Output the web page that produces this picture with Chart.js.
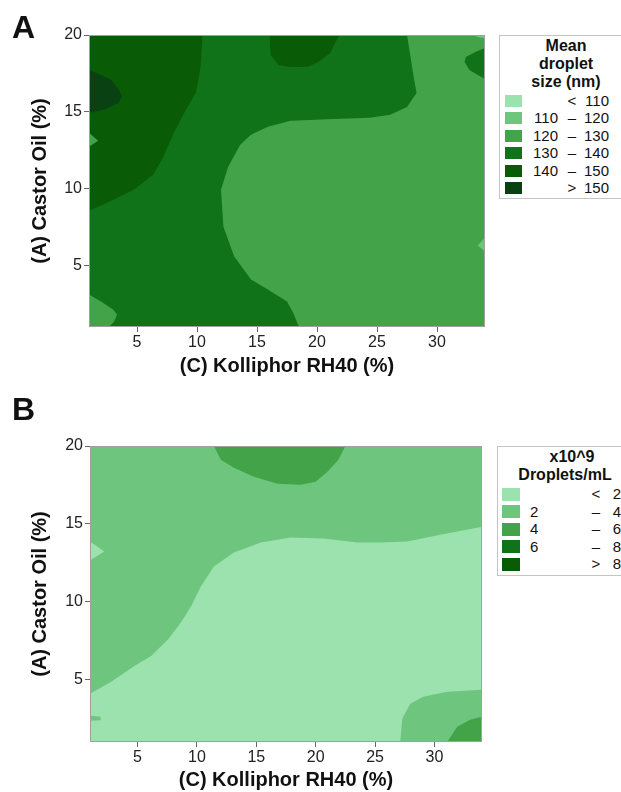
<!DOCTYPE html>
<html>
<head>
<meta charset="utf-8">
<script src="https://cdn.jsdelivr.net/npm/chart.js@4.4.1/dist/chart.umd.min.js"></script>
<style>
  body { margin: 0; background: #fff; font-family: "Liberation Sans", Arial, sans-serif; }
  #page { position: relative; width: 621px; height: 792px; overflow: hidden; }
  canvas { position: absolute; left: 0; }
  .panel { position: absolute; font-weight: bold; font-size: 32px; line-height: 32px; color: #111; }
  .legend { position: absolute; border: 1px solid #c4c4c4; background: #fff; }
  .lt { position: absolute; font-size: 15px; line-height: 18px; color: #111; white-space: nowrap; }
  .lt.b { font-weight: bold; font-size: 16px; }
  .sw { position: absolute; }
</style>
</head>
<body>
<div id="page">
  <canvas id="chartA" width="490" height="390" style="top:0"></canvas>
  <canvas id="chartB" width="490" height="402" style="top:390px"></canvas>
  <div class="panel" style="left:12px;top:11px">A</div>
  <div class="panel" style="left:12px;top:393px">B</div>
  <div class="legend" id="legA" style="left:499px;top:35px;width:140px;height:162px"></div>
  <div class="legend" id="legB" style="left:497px;top:446px;width:140px;height:128px"></div>
</div>
<script>
// axes
const xTicks = [5, 10, 15, 20, 25, 30];
const yTicks = [5, 10, 15, 20];
const xRange = [1, 34];
const yRange = [1, 20];
const xTitle = '(C) Kolliphor RH40 (%)';
const yTitle = '(A) Castor Oil (%)';

// band colours, lightest to darkest
const greens = ['#9be2af', '#6ec57d', '#43a348', '#10731a', '#0a5b05', '#0a4112'];

// legend texts
const sizeTitle = ['Mean', 'droplet', 'size (nm)'];
const sizeLabels = [['', '<', '110'], ['110', '–', '120'], ['120', '–', '130'],
                    ['130', '–', '140'], ['140', '–', '150'], ['', '>', '150']];
const countTitle = ['x10^9', 'Droplets/mL'];
const countLabels = [['', '<', '2'], ['2', '–', '4'], ['4', '–', '6'], ['6', '–', '8'], ['', '>', '8']];

// A: mean droplet size, contour regions as [x, y] outlines
const sizeBase = [[0, 0], [0, 21], [35, 21], [35, 0]];
const size130 = [[0, 21], [27.5, 21], [27.5, 20], [27.9, 18.05], [28.1, 17.08], [28.3, 16.23], [27.5, 15.32],
  [26.1, 14.81], [24.4, 14.61], [21.9, 14.55], [17.8, 14.42], [15.9, 14.03], [14.5, 13.51], [13.6, 12.86],
  [12.6, 11.43], [12.0, 9.94], [12.2, 7.53], [13.1, 5.58], [14.5, 4.09], [15.9, 3.44], [17.5, 2.66],
  [18.0, 1.95], [18.5, 1.0], [18.6, 0], [0, 0]];
const size140Left = [[0, 21], [10.5, 21], [10.46, 20], [10.3, 17.92], [9.9, 16.23], [9.07, 15.13], [8.07, 13.64],
  [7.08, 11.88], [6.33, 10.91], [4.75, 9.94], [3.09, 9.29], [1.76, 8.83], [1, 8.57], [0, 8.5]];
const size150 = [[0, 17.8], [1, 17.73], [2.0, 17.4], [2.84, 17.08], [3.5, 16.43], [3.75, 15.97], [3.42, 15.58],
  [2.26, 15.13], [1, 14.94], [0, 14.9]];
const size140Top = [[16.05, 21], [16.05, 20], [16.13, 18.7], [16.8, 18.05], [17.8, 17.92], [19.2, 17.92],
  [20.1, 18.25], [21.1, 18.83], [21.5, 19.48], [21.9, 20], [21.95, 21]];
const size130Right = [[35, 19.2], [34, 19.16], [33.2, 18.9], [32.4, 18.57], [32.3, 18.25], [32.7, 17.73],
  [33.4, 17.4], [34, 17.14], [35, 17.1]];
const size110Corner = [[32.9, 21], [32.9, 20], [33.5, 19.85], [34, 19.78], [35, 19.75], [35, 21]];
const size110Edge = [[35, 6.85], [34, 6.82], [33.4, 6.3], [34, 5.9], [35, 5.85]];
const size120Corner = [[0, 3.15], [1, 3.12], [2.0, 2.66], [3.0, 2.14], [3.34, 1.82], [3.09, 1.36], [2.67, 1.0],
  [2.6, 0], [0, 0]];
const size120Edge = [[0, 13.7], [1, 13.64], [1.76, 13.12], [1, 12.73], [0, 12.7]];

// B: droplet count (x10^9 /mL)
const countBase = [[0, 0], [0, 21], [35, 21], [35, 0]];
const countLow = [[0, 0], [0, 4.05], [1, 4.09], [2.79, 4.86], [4.72, 5.88], [6.15, 6.52], [7.58, 7.60],
  [8.67, 8.69], [9.51, 9.71], [10.34, 10.99], [11.43, 12.27], [13.11, 13.16], [15.38, 13.80], [17.89, 14.12],
  [20.66, 14.06], [23.51, 13.80], [25.44, 13.80], [27.71, 13.87], [30.48, 14.31], [34, 14.82], [35, 14.9], [35, 0]];
const countTop = [[11.4, 21], [11.43, 20], [12.02, 19.11], [13.11, 18.6], [14.79, 18.02], [16.8, 17.57],
  [18.73, 17.51], [19.99, 17.70], [20.99, 18.34], [21.91, 19.11], [22.5, 20], [22.55, 21]];
const countCorner2 = [[27.1, 0], [27.12, 1], [27.29, 2.49], [27.96, 3.45], [29.05, 3.90], [31.07, 4.22],
  [34, 4.35], [35, 4.37], [35, 0]];
const countCorner4 = [[31.0, 0], [31.07, 1], [31.91, 1.98], [33.0, 2.43], [34, 2.62], [35, 2.65], [35, 0]];
const countEdgeLow = [[0, 13.9], [1, 13.87], [2.2, 13.23], [1, 12.65], [0, 12.6]];
const countSpot = [[1, 2.68], [1.9, 2.62], [1.9, 2.4], [1, 2.36]];

// paint order, bottom first: [band index, outline]
const sizeLayers = [[2, sizeBase], [3, size130], [4, size140Left], [5, size150], [4, size140Top],
  [3, size130Right], [1, size110Corner], [1, size110Edge], [2, size120Corner], [2, size120Edge]];
const countLayers = [[1, countBase], [0, countLow], [2, countTop], [1, countCorner2], [2, countCorner4],
  [0, countEdgeLow], [1, countSpot]];

// gray frame round the plot area
const framePlugin = {
  id: 'frame',
  afterDatasetsDraw(chart) {
    const { ctx, chartArea: a } = chart;
    ctx.save();
    ctx.strokeStyle = '#a0a0a0';
    ctx.lineWidth = 1;
    ctx.strokeRect(a.left + 0.5, a.top + 0.5, a.right - a.left - 1, a.bottom - a.top - 1);
    ctx.restore();
  }
};

function makeContour(id, layers, box) {
  const datasets = layers.map(([band, outline], i) => ({
    data: outline.map(([x, y]) => ({ x, y })),
    showLine: true,
    fill: 'shape',
    backgroundColor: greens[band],
    borderColor: greens[band],
    borderWidth: 0,
    pointRadius: 0,
    tension: 0,
    order: layers.length - i
  }));

  return new Chart(document.getElementById(id), {
    type: 'scatter',
    data: { datasets },
    plugins: [framePlugin],
    options: {
      responsive: false,
      animation: false,
      devicePixelRatio: 1,
      events: [],
      layout: { padding: { top: box.top, right: box.right, left: 0, bottom: 0 } },
      plugins: { legend: { display: false }, tooltip: { enabled: false } },
      scales: {
        x: {
          type: 'linear', min: xRange[0], max: xRange[1],
          afterBuildTicks: s => { s.ticks = xTicks.map(v => ({ value: v })); },
          afterFit: s => { s.height = box.xHeight; },
          grid: { drawOnChartArea: false, drawTicks: true, tickLength: 5, color: '#666' },
          border: { display: false },
          ticks: { color: '#222', font: { size: 16, family: 'Liberation Sans' }, padding: 1, maxRotation: 0 },
          title: { display: true, text: xTitle, color: '#111',
                   font: { size: 20, weight: 'bold', family: 'Liberation Sans' },
                   padding: { top: 0, bottom: box.xTitlePad } }
        },
        y: {
          type: 'linear', min: yRange[0], max: yRange[1],
          afterBuildTicks: s => { s.ticks = yTicks.map(v => ({ value: v })); },
          afterFit: s => { s.width = box.yWidth; },
          grid: { drawOnChartArea: false, drawTicks: true, tickLength: 5, color: '#666' },
          border: { display: false },
          ticks: { color: '#222', font: { size: 16, family: 'Liberation Sans' }, padding: 2 },
          title: { display: true, text: yTitle, color: '#111',
                   font: { size: 20, weight: 'bold', family: 'Liberation Sans' },
                   padding: { top: box.yTitlePad, bottom: 0 } }
        }
      }
    }
  });
}

makeContour('chartA', sizeLayers, { top: 35, right: 5, yWidth: 89, xHeight: 63, xTitlePad: 12, yTitlePad: 28 });
makeContour('chartB', countLayers, { top: 56, right: 8, yWidth: 90, xHeight: 50, xTitlePad: 0, yTitlePad: 28 });

// legends as positioned text
function addText(box, text, left, top, cls, align) {
  const el = document.createElement('div');
  el.className = 'lt' + (cls ? ' ' + cls : '');
  el.textContent = text;
  el.style.top = top + 'px';
  if (align === 'center') { el.style.left = (left - 60) + 'px'; el.style.width = '120px'; el.style.textAlign = 'center'; }
  else if (align === 'right') { el.style.left = (left - 60) + 'px'; el.style.width = '60px'; el.style.textAlign = 'right'; }
  else el.style.left = left + 'px';
  box.appendChild(el);
}

function buildLegend(id, titles, labels, colors, g) {
  const box = document.getElementById(id);
  titles.forEach((t, i) => addText(box, t, g.titleX[i], g.titleY + i * g.titleStep, 'b', 'center'));
  labels.forEach(([lo, mid, hi], i) => {
    const cy = g.rowY + i * g.rowStep;
    const sw = document.createElement('div');
    sw.className = 'sw';
    Object.assign(sw.style, { left: g.swX + 'px', top: (cy - g.swH / 2) + 'px', width: g.swW + 'px',
                              height: g.swH + 'px', background: colors[i] });
    box.appendChild(sw);
    if (lo) {
      if (g.loAlign === 'right') addText(box, lo, g.loX, cy - 9, '', 'right');
      else addText(box, lo, g.loX, cy - 9, '', '');
    }
    addText(box, mid, g.midX, cy - 9, '', 'center');
    addText(box, hi, g.hiX, cy - 9, '', 'right');
  });
}

buildLegend('legA', sizeTitle, sizeLabels, greens,
  { titleX: [66, 66, 66], titleY: 1, titleStep: 18, rowY: 65, rowStep: 17.4,
    swX: 5, swW: 17, swH: 12, loX: 58, loAlign: 'right', midX: 72, hiX: 109 });
buildLegend('legB', countTitle, countLabels, greens.slice(0, 5),
  { titleX: [74, 67], titleY: 1, titleStep: 18, rowY: 47, rowStep: 17.5,
    swX: 4, swW: 18, swH: 13, loX: 32, loAlign: 'left', midX: 98, hiX: 123 });
</script>
</body>
</html>
